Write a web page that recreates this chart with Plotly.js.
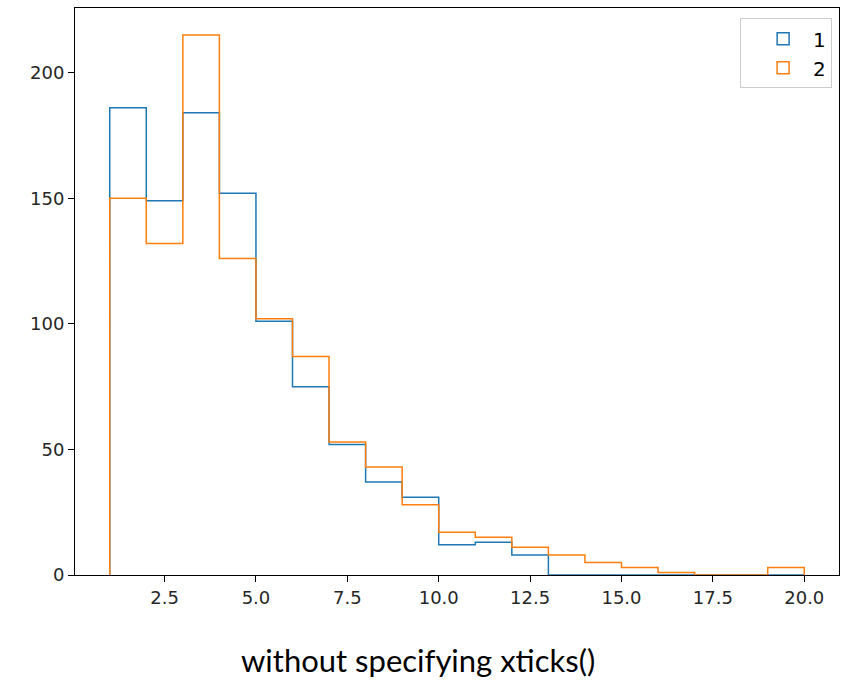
<!DOCTYPE html>
<html>
<head>
<meta charset="utf-8">
<script src="https://cdn.plot.ly/plotly-3.0.1.min.js"></script>
<style>html,body{margin:0;padding:0;background:#fff;}#chart{width:841px;height:684px;}</style>
</head>
<body>
<div id="chart"></div>
<script>
// Histogram bin edges (1..20, 19 bins)
var binEdges = [1,2,3,4,5,6,7,8,9,10,11,12,13,14,15,16,17,18,19,20];
// Counts per bin
var counts1 = [186,149,184,152,101,75,52,37,31,12,13,8,0,0,0,0,0,0,0];
var counts2 = [150,132,215,126,102,87,53,43,28,17,15,11,8,5,3,1,0,0,3];
var seriesNames = ['1','2'];
var xTickVals = [2.5,5.0,7.5,10.0,12.5,15.0,17.5,20.0];
var yTickVals = [0,50,100,150,200];
var caption = 'without specifying xticks()';

function stepXY(edges, counts){
  var x = [edges[0]], y = [0];
  for (var i = 0; i < counts.length; i++){ x.push(edges[i]); y.push(counts[i]); }
  x.push(edges[edges.length-1]); y.push(0);
  return {x:x, y:y};
}
var colors = ['#1f77b4','#ff7f0e'];
var s1 = stepXY(binEdges, counts1), s2 = stepXY(binEdges, counts2);
var traces = [
  {type:'scatter', mode:'lines', x:s1.x, y:s1.y, line:{shape:'hv', color:colors[0], width:1.5}, showlegend:false, hoverinfo:'skip'},
  {type:'scatter', mode:'lines', x:s2.x, y:s2.y, line:{shape:'hv', color:colors[1], width:1.5}, showlegend:false, hoverinfo:'skip'},
  // legend entries (outlined patches, no visible bars)
  {type:'bar', x:[null], y:[null], name:seriesNames[0], showlegend:true, marker:{color:'rgba(255,255,255,0)', line:{color:colors[0], width:1.5}}},
  {type:'bar', x:[null], y:[null], name:seriesNames[1], showlegend:true, marker:{color:'rgba(255,255,255,0)', line:{color:colors[1], width:1.5}}}
];
var ymax = Math.max.apply(null, counts1.concat(counts2));
var xspan = binEdges[binEdges.length-1]-binEdges[0];
var layout = {
  width:841, height:684,
  margin:{l:75, r:2, t:8, b:109},
  paper_bgcolor:'#fff', plot_bgcolor:'#fff',
  font:{family:'DejaVu Sans', size:18, color:'#262626'},
  xaxis:{range:[binEdges[0]-0.05*xspan, binEdges[binEdges.length-1]+0.05*xspan], tickvals:xTickVals, tickformat:'.1f',
    showgrid:false, zeroline:false, showline:true, mirror:true, linecolor:'#000', linewidth:1,
    ticks:'outside', ticklen:6, tickcolor:'#000', tickfont:{size:18, color:'#262626'}},
  yaxis:{range:[0, ymax*1.05], tickvals:yTickVals,
    showgrid:false, zeroline:false, showline:true, mirror:true, linecolor:'#000', linewidth:1,
    ticks:'outside', ticklen:6, tickcolor:'#000', tickfont:{size:18, color:'#262626'}},
  showlegend:true,
  legend:{x:0.991, y:0.982, xanchor:'right', yanchor:'top', bgcolor:'#fff', bordercolor:'#ccc', borderwidth:1,
    font:{size:20, color:'#000'}, tracegroupgap:0, itemwidth:50, indentation:12},
  annotations:[{text:caption, xref:'paper', yref:'paper', x:0.449, y:-0.15, xanchor:'center', yanchor:'middle',
    showarrow:false, font:{family:'Lato', size:31, color:'#000'}}]
};
Plotly.newPlot('chart', traces, layout, {displayModeBar:false, staticPlot:true});
</script>
</body>
</html>
